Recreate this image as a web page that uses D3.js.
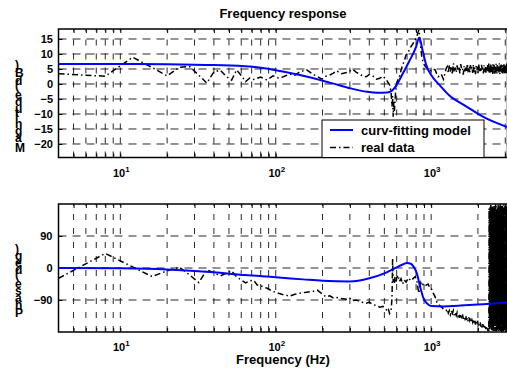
<!DOCTYPE html>
<html><head><meta charset="utf-8">
<script src="https://cdn.jsdelivr.net/npm/d3@7"></script>
<style>
body{margin:0;background:#fff}
svg{display:block}
text{font-family:"Liberation Sans",Arial,Helvetica,sans-serif;font-weight:bold;fill:#000}
</style>
</head><body><svg id="c" width="507" height="369"></svg>
<script>
// ---------------- DATA ----------------
const modelMagFreq = [4,10,20,40,68,100,143,232,300,388,450,520,560,600,650,720,800,838,880,930,1000,1130,1300,1700,2150,3100];
const modelMag     = [6.7,6.7,6.6,6.3,5.8,4.6,3.0,0.2,-1.4,-2.6,-2.9,-2.8,-2.2,-0.3,3.0,7.4,12.4,15.5,11.3,6.3,3.0,-0.3,-3.7,-7.6,-10.9,-14.4];
const modelPhFreq  = [4,10,20,40,63,100,150,200,300,400,500,600,650,700,740,770,808,850,893,937,1000,1200,1500,2000,3100];
const modelPhase   = [0,-1,-4,-12,-20,-26,-32,-36,-38,-29,-15,2,9,14,12,4,-14,-53,-85,-99,-107,-108,-106,-103,-97];

const realFreqLow = [4,8,12,16,20,24,28,32,36,40,44,48,52,56,60,64,68,72,76,80,
  88,96,104,112,123,133,143,158,173,185,198,210,223,235,246,265,286,300,313,330,
  347,365,383,400,421,445,467,490,516,528,540,552,560,565,570,575,580,585,590,595,
  600,612,625,640,655,670,690,715,740,765,790,810,825,835,845,858,870,885,905,930,
  955,980,1000,1030,1060,1085,1110,1135,1160,1200,1250];
const realMagLow = [3.4,2.6,8.9,5.5,2.7,5.6,5.8,2.9,0.3,4.0,4.6,2.5,1.3,4.7,2.8,0.8,2.0,1.5,1.9,2.3,
  1.3,2.7,2.0,2.4,3.3,2.9,4.1,4.7,3.3,2.5,1.6,2.6,3.0,3.6,4.4,3.4,3.8,4.3,4.9,3.9,
  3.3,2.6,2.4,3.2,2.7,1.6,1.9,2.6,1.3,0.5,-0.3,-2.5,-7.5,-4.0,-10.9,-6.0,-9.0,-6.4,-3.0,-1.4,
  0.2,1.5,2.4,4.5,6.3,7.5,9.7,10.8,12.4,13.5,14.7,16.0,17.4,18.0,15.8,12.0,9.1,7.5,6.3,5.5,
  5.2,4.6,4.4,5.0,4.7,3.5,2.4,2.8,3.3,1.6,5.2];
const realPhaseLow = [-29,41,3,-24,-8,2,-20,-41,-5,-13,-22,-15,-8,-25,-34,-42,-36,-34,-48,-50,
  -57,-66,-71,-75,-79,-74,-71,-68,-66,-62,-72,-81,-78,-84,-83,-86,-88,-85,-92,-90,
  -94,-97,-99,-96,-103,-105,-110,-108,-118,-112,-128,-120,-85,27,-40,-30,-45,-25,-35,-42,
  -28,-20,-38,-30,-45,-33,-40,-28,-36,-30,-24,-38,-60,-71,-55,-42,-50,-46,-52,-48,
  -45,-55,-57,-70,-81,-95,-100,-106,-109,-115,-120];

const realFreqTailA = [1270,1290,1310,1330,1350,1370,1390,1410,1430,1450,1470,1490,1510,1530,1550,1570,1590,1610,1630,1650,
  1670,1690,1710,1730,1750,1770,1790,1810,1830,1850,1870,1890,1910,1930,1950,1970,1990,2010,2030,2050,
  2070,2090,2110,2130,2150,2170,2190,2210,2230,2250,2270,2290];
const realMagTailA = [5.8,3.6,6.4,4.1,5.5,3.2,6.9,4.6,5.1,3.8,6.2,4.4,5.9,3.5,6.6,4.9,5.3,3.1,6.0,4.2,
  5.7,3.9,6.8,4.5,5.0,3.4,6.3,4.7,5.6,3.7,6.5,4.0,5.4,3.3,6.1,4.8,5.8,3.6,6.7,4.3,
  5.2,3.9,6.4,4.6,5.5,3.5,6.2,4.1,5.9,3.8,6.0,4.4];
const realPhaseTailA = [-115,-127,-120,-131,-120,-128,-120,-134,-127,-134,-125,-136,-129,-140,-129,-137,-129,-143,-136,-143,
  -134,-146,-139,-150,-139,-147,-139,-153,-146,-153,-144,-155,-148,-159,-148,-156,-148,-162,-155,-162,
  -153,-165,-158,-169,-158,-166,-158,-172,-165,-172,-163,-175];

const realFreqTailB = [2300,2310,2320,2330,2340,2350,2360,2370,2380,2390,2400,2410,2420,2430,2440,2450,2460,2470,2480,2490,
  2500,2510,2520,2530,2540,2550,2560,2570,2580,2590,2600,2610,2620,2630,2640,2650,2660,2670,2680,2690,
  2700,2710,2720,2730,2740,2750,2760,2770,2780,2790,2800,2810,2820,2830,2840,2850,2860,2870,2880,2890,
  2900,2910,2920,2930,2940,2950,2960,2970,2980,2990,3000,3010,3020,3030,3040,3050,3060,3070,3080,3090,3100];
const realMagTailB = [4.9,6.3,3.8,5.6,4.2,6.8,3.5,5.1,6.0,4.4,5.7,3.6,6.5,4.7,5.3,3.9,6.2,4.0,5.8,3.3,
  6.6,4.5,5.0,3.7,6.4,4.8,5.5,3.4,6.1,4.3,5.9,3.8,6.7,4.6,5.2,3.5,6.3,4.1,5.6,3.9,
  6.0,4.4,5.4,3.6,6.9,4.7,5.1,3.3,6.2,4.2,5.8,3.7,6.5,4.5,5.3,3.8,6.1,4.0,5.7,3.5,
  6.4,4.6,5.0,3.9,6.6,4.3,5.5,3.6,6.2,4.8,5.9,3.4,6.3,4.1,5.4,3.7,6.8,4.5,5.2,3.9,6.0];
const realPhaseTailB = [-172,-176,-170,-178,-174,-179,168,-177,159,-171,176,-163,179,-168,154,-178,171,-158,177,-174,
  162,-179,173,-166,178,-155,169,-177,157,-172,179,-161,174,-178,165,-170,158,-176,172,-164,
  178,-157,167,-179,173,-162,156,-175,179,-168,163,-177,175,-159,170,-179,160,-172,177,-166,
  171,-178,158,-169,179,-156,166,-176,174,-161,177,-170,162,-179,168,-158,175,-173,160,-177,172];

const magTicks = [-20,-15,-10,-5,0,5,10,15];
const phaseTicks = [-90,0,90];
const decadeTicks = [10,100,1000];
const decadeExp = ["1","2","3"];
const gridFreqs = [5,6,7,8,9,10,20,30,40,50,60,70,80,90,100,200,300,400,500,600,700,800,900,1000,2000,3000];
const legendLabels = ["curv-fitting model","real data"];

// ---------------- CHART ----------------
const realFreq = realFreqLow.concat(realFreqTailA, realFreqTailB);
const realMag = realMagLow.concat(realMagTailA, realMagTailB);
const realPhase = realPhaseLow.concat(realPhaseTailA, realPhaseTailB);

const svg = d3.select("#c");
const x = d3.scaleLog().domain([4, 3100]).range([58.5, 507.5]);
const yMag = d3.scaleLinear().domain([-24.5, 18.33]).range([157.5, 29]);
const yPh = d3.scaleLinear().domain([-180, 180]).range([332, 204]);
const BLUE = "#0000ff";
const DASHDOT = "6,3,1.5,3";

function panel(id, y, ticks, pad) {
  const g = svg.append("g");
  const [x0, x1] = x.range();
  const [yb, yt] = y.range();
  g.append("g").selectAll("line").data(ticks).join("line")
    .attr("x1", x0).attr("x2", x1).attr("y1", d => y(d)).attr("y2", d => y(d))
    .attr("stroke", "#111").attr("stroke-width", 0.9).attr("stroke-dasharray", "8,6");
  g.append("g").selectAll("line").data(gridFreqs).join("line")
    .attr("x1", d => x(d)).attr("x2", d => x(d)).attr("y1", yb).attr("y2", yt)
    .attr("stroke", "#111").attr("stroke-width", 0.9).attr("stroke-dasharray", "6,8");
  svg.append("defs").append("clipPath").attr("id", id)
    .append("rect").attr("x", x0).attr("y", yt).attr("width", x1 - x0).attr("height", yb - yt);
  const ay = g.append("g").attr("transform", `translate(${x0},0)`)
    .call(d3.axisLeft(y).tickValues(ticks).tickSize(-4).tickPadding(pad).tickFormat(d3.format("d")));
  ay.select(".domain").remove();
  ay.attr("font-family", null);
  ay.selectAll("text").attr("font-size", 11);
  const ab = g.append("g").attr("transform", `translate(0,${yb})`)
    .call(d3.axisBottom(x).tickValues(gridFreqs).tickSize(-4).tickFormat(""));
  ab.select(".domain").remove();
  const at = g.append("g").attr("transform", `translate(0,${yt})`)
    .call(d3.axisTop(x).tickValues(gridFreqs).tickSize(-4).tickFormat(""));
  at.select(".domain").remove();
  g.selectAll(".tick line").attr("stroke-width", 1);
  const lab = g.append("g").selectAll("text").data(decadeTicks).join("text")
    .attr("x", d => x(d) + 1).attr("y", yb + 19).attr("text-anchor", "middle").attr("font-size", 11);
  lab.append("tspan").text("10");
  lab.append("tspan").attr("dy", -5).attr("font-size", 8).text((d, i) => decadeExp[i]);
  g.append("rect").attr("x", x0).attr("y", yt).attr("width", x1 - x0).attr("height", yb - yt)
    .attr("fill", "none").attr("stroke", "#000").attr("stroke-width", 1.5);
  return g;
}

panel("clipTop", yMag, magTicks, 5.5);
panel("clipBot", yPh, phaseTicks, 6);

const lineMagReal = d3.line().x(d => x(d[0])).y(d => yMag(d[1]));
const lineMagModel = d3.line().x(d => x(d[0])).y(d => yMag(d[1])).curve(d3.curveMonotoneX);
const linePhReal = d3.line().x(d => x(d[0])).y(d => yPh(d[1]));
const linePhModel = d3.line().x(d => x(d[0])).y(d => yPh(d[1])).curve(d3.curveMonotoneX);

const gTop = svg.append("g").attr("clip-path", "url(#clipTop)");
gTop.append("path").attr("d", lineMagReal(d3.zip(realFreq, realMag)))
  .attr("fill", "none").attr("stroke", "#000").attr("stroke-width", 1.5).attr("stroke-dasharray", DASHDOT);
gTop.append("path").attr("d", lineMagModel(d3.zip(modelMagFreq, modelMag)))
  .attr("fill", "none").attr("stroke", BLUE).attr("stroke-width", 2);

const gBot = svg.append("g").attr("clip-path", "url(#clipBot)");
gBot.append("path").attr("d", linePhReal(d3.zip(realFreq, realPhase)))
  .attr("fill", "none").attr("stroke", "#000").attr("stroke-width", 1.5).attr("stroke-dasharray", DASHDOT);
gBot.append("path").attr("d", linePhModel(d3.zip(modelPhFreq, modelPhase)))
  .attr("fill", "none").attr("stroke", BLUE).attr("stroke-width", 2);

const lg = svg.append("g");
lg.append("rect").attr("x", 322).attr("y", 120).attr("width", 162).attr("height", 37.5)
  .attr("fill", "#fff").attr("stroke", "#000").attr("stroke-width", 1);
lg.append("line").attr("x1", 330).attr("x2", 353).attr("y1", 130).attr("y2", 130)
  .attr("stroke", BLUE).attr("stroke-width", 2);
lg.append("line").attr("x1", 330).attr("x2", 353).attr("y1", 147.5).attr("y2", 147.5)
  .attr("stroke", "#000").attr("stroke-width", 1.5).attr("stroke-dasharray", DASHDOT);
lg.selectAll("text.l").data(legendLabels).join("text").attr("class", "l")
  .attr("x", 361).attr("y", (d, i) => 134.5 + i * 17).attr("font-size", 13).text(d => d);

svg.append("text").attr("x", 283).attr("y", 18).attr("text-anchor", "middle").attr("font-size", 13)
  .text("Frequency response");
svg.append("text").attr("x", 283).attr("y", 364).attr("text-anchor", "middle").attr("font-size", 13)
  .text("Frequency (Hz)");

svg.append("text").attr("transform", "translate(15,152) rotate(-90)").attr("rotate", "90")
  .attr("font-size", 12).text("Magnitude (dB)");
svg.append("text").attr("transform", "translate(15,317) rotate(-90)").attr("rotate", "90")
  .attr("font-size", 12).text("Phase (deg)");
</script>
</body></html>
